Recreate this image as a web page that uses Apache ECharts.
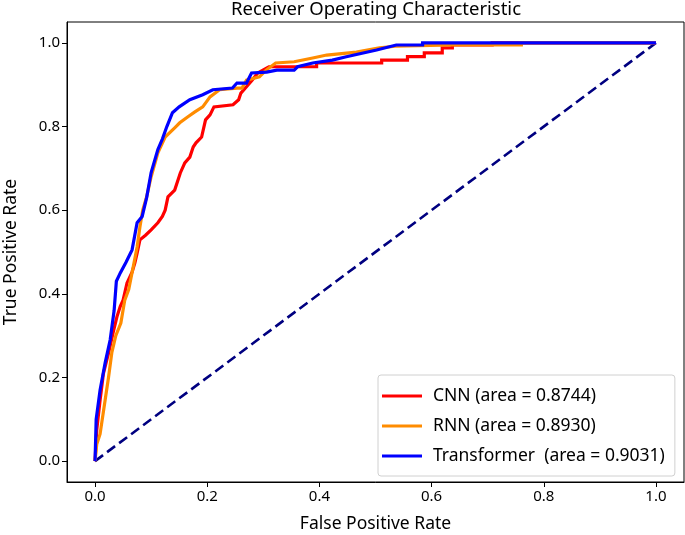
<!DOCTYPE html>
<html>
<head>
<meta charset="utf-8">
<script src="https://cdn.jsdelivr.net/npm/echarts@6/dist/echarts.min.js"></script>
<style>
html,body{margin:0;padding:0;background:#fff;}
#chart{width:685px;height:535px;}
</style>
</head>
<body>
<div id="chart"></div>
<script>
var seriesNames = ['CNN (area = 0.8744)', 'RNN (area = 0.8930)', 'Transformer  (area = 0.9031)'];
var tickValues = [0, 0.2, 0.4, 0.6, 0.8, 1.0];

var cnnRoc = [[0,0],[0.003,0.074],[0.009,0.146],[0.015,0.21],[0.024,0.258],[0.032,0.306],[0.039,0.345],[0.045,0.37],[0.05,0.385],[0.057,0.426],[0.066,0.452],[0.071,0.474],[0.075,0.497],[0.08,0.529],[0.09,0.54],[0.1,0.553],[0.112,0.57],[0.12,0.585],[0.125,0.6],[0.13,0.632],[0.142,0.648],[0.152,0.689],[0.16,0.713],[0.169,0.727],[0.175,0.751],[0.18,0.761],[0.19,0.775],[0.197,0.816],[0.205,0.828],[0.212,0.847],[0.246,0.852],[0.256,0.864],[0.26,0.88],[0.27,0.895],[0.28,0.911],[0.29,0.928],[0.31,0.943],[0.329,0.943],[0.395,0.943],[0.395,0.952],[0.511,0.952],[0.511,0.959],[0.557,0.959],[0.557,0.967],[0.587,0.967],[0.587,0.976],[0.619,0.976],[0.619,0.988],[0.637,0.988],[0.637,0.995],[0.708,0.995],[0.708,1],[1,1]];

var rnnRoc = [[0,0],[0.003,0.04],[0.009,0.065],[0.018,0.146],[0.024,0.2],[0.03,0.26],[0.037,0.3],[0.046,0.33],[0.053,0.385],[0.06,0.41],[0.068,0.464],[0.075,0.512],[0.08,0.56],[0.085,0.6],[0.092,0.632],[0.1,0.68],[0.107,0.713],[0.112,0.737],[0.125,0.775],[0.142,0.797],[0.151,0.809],[0.165,0.823],[0.178,0.835],[0.192,0.847],[0.205,0.871],[0.222,0.888],[0.253,0.892],[0.262,0.892],[0.27,0.911],[0.293,0.919],[0.305,0.935],[0.322,0.952],[0.355,0.955],[0.388,0.964],[0.413,0.971],[0.466,0.978],[0.507,0.988],[0.535,0.992],[0.64,0.995],[0.76,0.995],[0.76,1],[1,1]];

var transformerRoc = [[0,0],[0.002,0.1],[0.009,0.17],[0.018,0.235],[0.027,0.29],[0.034,0.36],[0.038,0.43],[0.045,0.45],[0.055,0.475],[0.066,0.505],[0.075,0.57],[0.084,0.585],[0.092,0.63],[0.1,0.69],[0.112,0.745],[0.12,0.77],[0.128,0.8],[0.138,0.833],[0.15,0.847],[0.169,0.864],[0.192,0.876],[0.21,0.888],[0.245,0.892],[0.253,0.904],[0.27,0.904],[0.279,0.928],[0.306,0.93],[0.324,0.935],[0.355,0.935],[0.361,0.943],[0.388,0.952],[0.423,0.959],[0.448,0.967],[0.502,0.983],[0.537,0.995],[0.584,0.995],[0.584,1],[1,1]];

var diagonal = [[0,0],[1,1]];

var FONT = 'Noto Sans';
var chart = echarts.init(document.getElementById('chart'), null, {renderer:'canvas'});

function lineSeries(name, data, color) {
  return {
    name: name, type: 'line', data: data, showSymbol: false, symbol: 'none',
    lineStyle: {color: color, width: 3.2, join: 'miter'}, itemStyle: {color: color},
    animation: false, z: 3
  };
}

chart.setOption({
  animation: false,
  backgroundColor: '#fff',
  textStyle: {fontFamily: FONT},
  title: {
    text: 'Receiver Operating Characteristic',
    left: 376, top: 0, textAlign: 'center', padding: 0,
    textStyle: {fontFamily: FONT, fontSize: 18.5, fontWeight: 'normal', color: '#000', lineHeight: 19}
  },
  grid: {left: 67, right: 1, top: 22, bottom: 53, show: true, borderColor: '#000', borderWidth: 1, backgroundColor: '#fff', outerBoundsMode: 'none', containLabel: false},
  legend: {
    data: seriesNames,
    orient: 'vertical', left: 378, top: 375,
    backgroundColor: '#fff', borderColor: '#d0d0d0', borderWidth: 1, borderRadius: 3,
    padding: [11, 10, 10, 4], itemGap: 10,
    icon: 'rect', itemWidth: 40, itemHeight: 3,
    textStyle: {fontFamily: FONT, fontSize: 17.5, color: '#000', padding: [0,0,0,6], lineHeight: 20}
  },
  xAxis: {
    type: 'value', min: -0.05, max: 1.05,
    name: 'False Positive Rate', nameLocation: 'middle', nameGap: 33,
    nameTextStyle: {fontFamily: FONT, fontSize: 17.5, color: '#000'},
    axisLine: {show: true, onZero: false, lineStyle: {color: '#000', width: 1}},
    axisTick: {show: true, inside: false, length: 5, customValues: tickValues, lineStyle: {color: '#000'}},
    axisLabel: {customValues: tickValues, fontFamily: FONT, fontSize: 15, color: '#000', margin: 7,
      formatter: function(v){ return v.toFixed(1); }},
    splitLine: {show: false}
  },
  yAxis: {
    type: 'value', min: -0.05, max: 1.05,
    name: 'True Positive Rate', nameLocation: 'middle', nameGap: 47, nameRotate: 90,
    nameTextStyle: {fontFamily: FONT, fontSize: 17.5, color: '#000'},
    axisLine: {show: true, onZero: false, lineStyle: {color: '#000', width: 1}},
    axisTick: {show: true, inside: false, length: 5, customValues: tickValues, lineStyle: {color: '#000'}},
    axisLabel: {customValues: tickValues, fontFamily: FONT, fontSize: 15, color: '#000', margin: 7,
      formatter: function(v){ return v.toFixed(1); }},
    splitLine: {show: false}
  },
  series: [
    lineSeries(seriesNames[0], cnnRoc, '#ff0000'),
    lineSeries(seriesNames[1], rnnRoc, '#ff8c00'),
    lineSeries(seriesNames[2], transformerRoc, '#0000ff'),
    {
      name: 'diagonal', type: 'line', data: diagonal, showSymbol: false, symbol: 'none',
      lineStyle: {color: '#000080', width: 2.6, type: [10, 5]}, z: 2
    }
  ]
});
</script>
</body>
</html>
